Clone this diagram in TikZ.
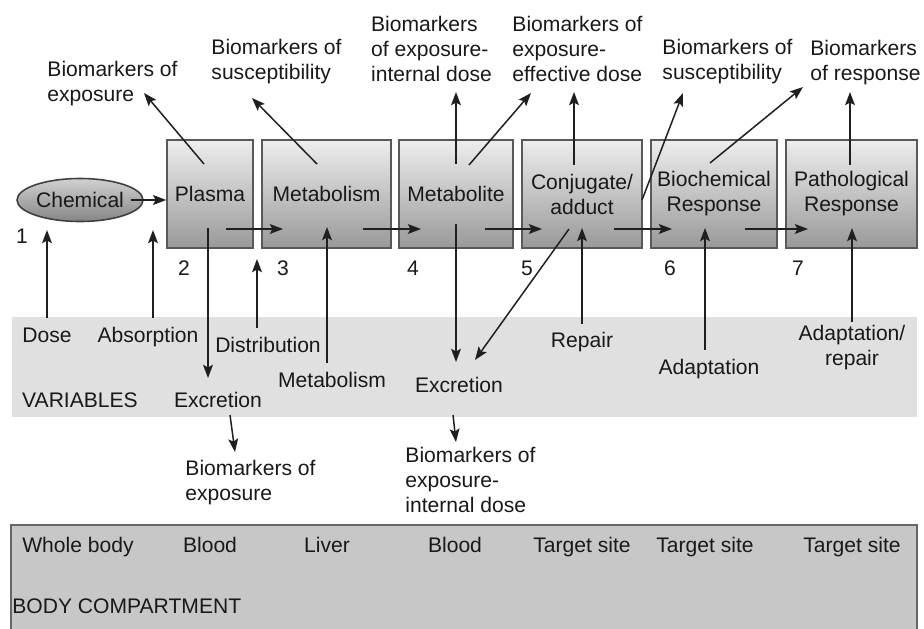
\documentclass[tikz,border=0pt]{standalone}
\usepackage{fontspec}
\setmainfont{Liberation Sans}
\usetikzlibrary{calc,shapes.geometric,arrows.meta}
\tikzset{
  stage/.style={draw=black!65, line width=0.9pt, top color=black!7, bottom color=black!40,
    minimum height=2.16cm, inner sep=0pt, align=center, text=black!90},
  lbl/.style={inner sep=0pt, align=left, text=black!90},
  clbl/.style={inner sep=0pt, align=center, text=black!90},
  blbl/.style={inner sep=0pt, anchor=base, text=black!90},
  arr/.style={-{Stealth[length=7.5pt,width=5.6pt,inset=1.5pt]}, line width=0.85pt, draw=black!88},
}
\begin{document}
\begin{tikzpicture}[x=0.02cm, y=-0.02cm, font=\fontsize{12}{14.2}\selectfont]
		\useasboundingbox (0,0) rectangle (924,629);
		% bands
		\fill[black!12] (12,317) rectangle (917,417);
		\fill[black!22] (11,525) rectangle (917,629);
		\draw[black!60, line width=0.9pt] (11,629) -- (11,525) -- (917,525) -- (917,629);
		% chemical and stages
		\node[ellipse, draw=black!75, line width=0.9pt, top color=black!18, bottom color=black!48,
		  minimum width=2.52cm, minimum height=0.86cm, inner sep=0pt, text=black!90] (chem) at (80,200) {Chemical};
		\node[stage, minimum width=1.72cm] (plasma) at (210,194) {Plasma};
		\node[stage, minimum width=2.58cm] (metab) at (326.5,194) {Metabolism};
		\node[stage, minimum width=2.28cm] (metlt) at (456,194) {Metabolite};
		\node[stage, minimum width=2.40cm] (conj) at (582,194) {Conjugate/\\adduct};
		\node[stage, minimum width=2.52cm] (bioch) at (714,194) {Biochemical\\Response};
		\node[stage, minimum width=2.62cm] (patho) at (851.5,194) {Pathological\\Response};
		\foreach \n/\x/\y in {1/22/243, 2/184/275, 3/283/275, 4/413/275, 5/527/275, 6/670/275, 7/798/275}
		\node[blbl] (num\n) at (\x,\y) {\n};
		% biomarkers above
		\node[lbl] (bexp) at (112.5,84) {Biomarkers of\\exposure};
		\node[lbl] (bsusa) at (276.5,62) {Biomarkers of\\susceptibility};
		\node[lbl] (bint) at (431.5,49) {Biomarkers\\of exposure-\\internal dose};
		\node[lbl] (beff) at (577.5,49) {Biomarkers of\\exposure-\\effective dose};
		\node[lbl] (bsusb) at (727.5,62) {Biomarkers of\\susceptibility};
		\node[lbl] (bresp) at (865.5,63) {Biomarkers\\of response};
		% variables
		\node[blbl] (dose) at (47,342) {Dose};
		\node[blbl] (absorb) at (148,342) {Absorption};
		\node[blbl] (distr) at (268,352) {Distribution};
		\node[blbl] (metv) at (332,387) {Metabolism};
		\node[blbl] (vars) at (80,407) {VARIABLES};
		\node[blbl] (excl) at (218,407) {Excretion};
		\node[blbl] (excm) at (459,392) {Excretion};
		\node[blbl] (repair) at (582,347) {Repair};
		\node[blbl] (adapt) at (709,374) {Adaptation};
		\node[clbl] (adrep) at (852,348) {Adaptation/\\repair};
		% biomarkers below
		\node[lbl] (bexpl) at (250.5,483) {Biomarkers of\\exposure};
		\node[lbl] (bintl) at (470.5,480) {Biomarkers of\\exposure-\\internal dose};
		% body compartment
		\foreach \n/\x/\t in {whole/78/Whole body, blooda/210/Blood, liver/327/Liver, bloodb/455/Blood,
		  tgta/582/Target site, tgtb/705/Target site, tgtc/852/Target site}
		\node[blbl] (\n) at (\x,552) {\t};
		\node[lbl, anchor=base west] (bodyc) at (12,613) {BODY COMPARTMENT};
		% arrow ends
		\foreach \c/\x/\y in {h1a/226/229, h1b/283/229, h2a/363/229, h2b/421/229, h3a/485/229, h3b/542/229,
		  h4a/614/229, h4b/672/229, h5a/745/229, h5b/808/229,
		  u1a/204/164, u1b/144/93, u2a/317/164, u2b/252/98, u3a/456/164, u3b/456/92,
		  u4a/469/165, u4b/531/93, u5a/574/165, u5b/574/92, u6a/642/200, u6b/683/93,
		  u7a/710/163, u7b/803/87, u8a/850/165, u8b/850/92,
		  d1a/47/318, d1b/47/230, d2a/153/318, d2b/153/230, d3a/208/228, d3b/208/378,
		  d4a/257/328, d4b/257/259, d5a/327/363, d5b/327/227, d6a/456/224, d6b/456/362,
		  d7a/569/229, d7b/475/360, d8a/582/324, d8b/582/228, d9a/705/350, d9b/705/228,
		  d10a/852/322, d10b/852/228, e1a/230/415, e1b/235/452, e2a/453/415, e2b/456/442}
		\coordinate (\c) at (\x,\y);
		% arrows
		\draw[arr] ($(chem.east)+(-13,0)$) -- (chem -| plasma.west);
		\foreach \a in {h1,h2,h3,h4,h5,u1,u2,u3,u4,u5,u6,u7,u8,d1,d2,d3,d4,d5,d6,d7,d8,d9,d10,e1,e2}
		\draw[arr] (\a a) -- (\a b);
	\end{tikzpicture}
\end{document}
